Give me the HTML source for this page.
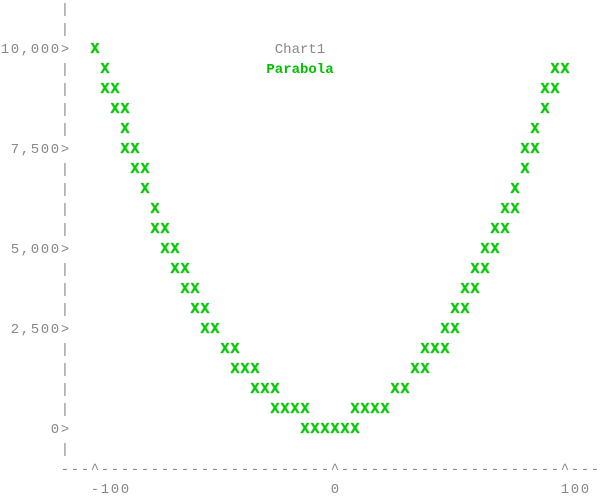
<!DOCTYPE html>
<html><head><meta charset="utf-8"><style>
html,body{margin:0;padding:0;background:#fff;}
#chart{position:relative;width:600px;height:500px;overflow:hidden;font-family:"Liberation Mono",monospace;}
.c{position:absolute;width:10px;height:20px;line-height:20px;text-align:center;font-size:14px;color:#888;}
.m{color:#00d000;font-weight:bold;font-size:15px;text-shadow:0 0 1px #008000;}
.t{position:absolute;height:20px;line-height:20px;font-size:14px;text-align:center;}
</style></head><body>
<div id="chart">
<div class="t" style="left:270px;top:40px;width:60px;color:#888">Chart1</div>
<div class="t" style="left:260px;top:60px;width:80px;color:#00c000;font-weight:bold">Parabola</div>
</div>
<script>
const xValues=[-100,
-96.8,94.7,98.9,
-96.8,-92.6,90.4,94.7,
-92.6,-88.3,90.4,
-88.3,86.2,
-88.3,-84.0,81.9,86.2,
-84.0,-79.8,81.9,
-79.8,77.7,
-75.5,73.4,77.7,
-75.5,-71.3,69.1,73.4,
-71.3,-67.0,64.9,69.1,
-67.0,-62.8,60.6,64.9,
-62.8,-58.5,56.4,60.6,
-58.5,-54.3,52.1,56.4,
-54.3,-50.0,47.9,52.1,
-45.7,-41.5,39.4,43.6,47.9,
-41.5,-37.2,-33.0,35.1,39.4,
-33.0,-28.7,-24.5,26.6,30.9,
-24.5,-20.2,-16.0,-11.7,9.6,13.8,18.1,22.3,
-11.7,-7.4,-3.2,1.1,5.3,9.6];
const yValues=[10000,
9474,9474,9474,
8947,8947,8947,8947,
8421,8421,8421,
7895,7895,
7368,7368,7368,7368,
6842,6842,6842,
6316,6316,
5789,5789,5789,
5263,5263,5263,5263,
4737,4737,4737,4737,
4211,4211,4211,4211,
3684,3684,3684,3684,
3158,3158,3158,3158,
2632,2632,2632,2632,
2105,2105,2105,2105,2105,
1579,1579,1579,1579,1579,
1053,1053,1053,1053,1053,
526,526,526,526,526,526,526,526,
0,0,0,0,0,0];
const yTicks=[10000,7500,5000,2500,0];
const yTickLabels=["10,000","7,500","5,000","2,500","0"];
const xTicks=[-100,0,100];
const xTickLabels=["-100","0","100"];

const chart=document.getElementById('chart');
function colOf(x){return Math.round(32.75+x*0.235);}
function rowOf(y){return Math.round(21-y*19/10000);}
function put(ch,col,row,cls,name){
  const s=document.createElement('div');
  s.className='c '+(cls||'');
  s.style.left=(col*10)+'px';s.style.top=(row*20)+'px';
  s.textContent=ch;
  
  
  chart.appendChild(s);
}
const tickRows=yTicks.map(rowOf);
for(let r=0;r<=22;r++){ if(tickRows.indexOf(r)<0) put('|',6,r,'','y-axis-line'); }
yTicks.forEach((v,i)=>{
  const r=rowOf(v);const lab=yTickLabels[i]+'>';
  for(let k=0;k<lab.length;k++) put(lab[k],7-lab.length+k,r,'','y-tick-label');
});
const tickCols=xTicks.map(colOf);
for(let c=6;c<=59;c++){
  if(tickCols.indexOf(c)>=0) put('^',c,23,'','x-tick-mark');
  else put('-',c,23,'','x-axis-line');
}
xTicks.forEach((v,i)=>{
  const c0=colOf(v);const lab=xTickLabels[i];
  const start=v<0?c0:(v===0?c0:c0);
  for(let k=0;k<lab.length;k++) put(lab[k],start+k,24,'','x-tick-label');
});
xValues.forEach((x,i)=>{ put('X',colOf(x),rowOf(yValues[i]),'m','data-point'); });
</script>
</body></html>
